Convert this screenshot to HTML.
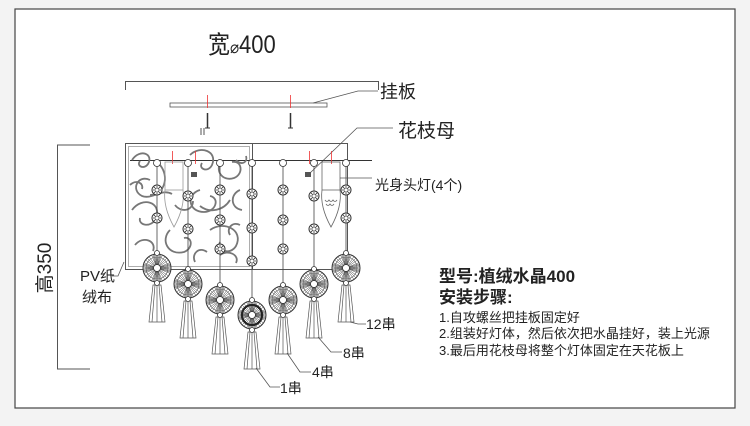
<!DOCTYPE html>
<html><head><meta charset="utf-8"><style>
html,body{margin:0;padding:0;background:#f3f3f3;}
svg{display:block;}
text{font-family:"Liberation Sans","Noto Sans CJK SC",sans-serif;fill:#222;}
</style></head><body>
<svg width="750" height="426" viewBox="0 0 750 426" xmlns="http://www.w3.org/2000/svg">
<defs>
<g id="bead"><circle r="5" fill="#fff" stroke="#333" stroke-width="1"/><path d="M-4,0H4M0,-4V4M-3,-3L3,3M-3,3L3,-3" stroke="#333" stroke-width="0.8"/><circle r="1.3" fill="#fff"/></g>
<g id="med">
<circle r="14" fill="#fff" stroke="#333" stroke-width="1"/>
<circle r="11" fill="none" stroke="#555" stroke-width="0.6"/>
<path d="M0,-14V14M-14,0H14M-10,-10L10,10M-10,10L10,-10M-5.4,-13L5.4,13M5.4,-13L-5.4,13M-13,-5.4L13,5.4M-13,5.4L13,-5.4M-2.7,-13.7L2.7,13.7M2.7,-13.7L-2.7,13.7M-13.7,-2.7L13.7,2.7M-13.7,2.7L13.7,-2.7M-8,-11.5L8,11.5M8,-11.5L-8,11.5M-11.5,-8L11.5,8M-11.5,8L11.5,-8M-1.3,-14L1.3,14M1.3,-14L-1.3,14M-14,-1.3L14,1.3M-14,1.3L14,-1.3M-4,-13.4L4,13.4M4,-13.4L-4,13.4M-13.4,-4L13.4,4M-13.4,4L13.4,-4" stroke="#444" stroke-width="0.5"/>
<circle r="3.5" fill="#fff" stroke="#333" stroke-width="0.8"/>
<circle cy="-15" r="2.5" fill="#fff" stroke="#333" stroke-width="0.8"/>
<circle cy="15" r="2.5" fill="#fff" stroke="#333" stroke-width="0.8"/>
</g>
</defs>
<rect x="15" y="9" width="720" height="399" fill="#fff" stroke="#444" stroke-width="1.2"/>

<text x="208" y="53" font-size="22" transform="translate(208,53) scale(1,1.12) translate(-208,-53)">宽<tspan font-size="15">⌀</tspan>400</text>
<path d="M125.5,90V81.5H378.5V90" fill="none" stroke="#555" stroke-width="1"/>

<rect x="170" y="103" width="157" height="4" fill="#fff" stroke="#555" stroke-width="0.8"/>
<path d="M313,103L358,91H378" fill="none" stroke="#555" stroke-width="0.8"/>
<text x="380" y="98" font-size="18">挂板</text>
<path d="M207.5,95V108M290.5,95V108" stroke="#e33" stroke-width="0.8"/>
<path d="M207.5,113V128M290.5,113V128" stroke="#333" stroke-width="1.5"/>
<path d="M205,128H210M288,128H293" stroke="#333" stroke-width="1"/>
<path d="M201,128V135M204,128V135" stroke="#555" stroke-width="1"/>
<text x="398" y="137" font-size="19">花枝母</text>
<path d="M309,174L357,128H393" fill="none" stroke="#555" stroke-width="0.8"/>

<path d="M90,145H57.5V369H90" fill="none" stroke="#555" stroke-width="1"/>
<text transform="translate(51,268) rotate(-90)" font-size="19" text-anchor="middle">高350</text>

<rect x="125.5" y="143.5" width="222" height="126" fill="none" stroke="#555" stroke-width="1"/>
<rect x="125.5" y="143.5" width="127" height="126" fill="none" stroke="#555" stroke-width="1"/>
<rect x="128.5" y="146.5" width="121" height="120" fill="none" stroke="#777" stroke-width="0.6"/>
<path d="M130,160.5H372" stroke="#333" stroke-width="1"/>
<g fill="none" stroke="#777" stroke-width="1.8">
<path d="M132,160c8,-12 22,-6 16,4c-4,6 -12,2 -8,-3"/>
<path d="M150,180c-12,-6 -20,10 -8,16c10,4 20,-8 30,-2"/>
<path d="M190,155c10,-10 28,-4 22,10c-4,8 -14,4 -10,-2"/>
<path d="M222,160c-8,10 0,22 12,18c10,-4 8,-18 -2,-16"/>
<path d="M200,190c-14,4 -12,22 4,22c12,0 16,-14 6,-16"/>
<path d="M132,210c10,-14 30,-8 24,8c-4,10 -18,8 -16,0"/>
<path d="M170,230c-10,10 -2,26 14,22c10,-4 8,-16 0,-14"/>
<path d="M210,230c14,-10 34,0 26,16c-6,10 -20,4 -16,-4"/>
<path d="M240,190c-10,4 -10,18 2,20"/>
<path d="M135,245c8,-10 22,-4 18,6"/>
<path d="M220,255c8,-6 20,0 16,8"/>
<path d="M160,165c10,12 4,30 -10,30"/>
<path d="M230,200c-6,10 -20,14 -30,6"/>
<path d="M130,185c6,-6 14,-2 12,4"/>
<path d="M175,205c6,8 18,6 18,-4"/>
<path d="M236,160c6,6 12,2 10,-4"/>
<path d="M195,262c-4,-8 4,-16 12,-10"/>
<path d="M240,225c-8,-4 -14,4 -10,10"/>
<path d="M150,258c6,-4 12,0 10,6"/>
</g>

<g stroke="#444" stroke-width="0.8">
<path d="M157,166V253M188,166V269M220,166V285M252,166V300M283,166V285M314,166V269M346,166V253"/>
</g>
<g fill="#fff" stroke="#333" stroke-width="0.8">
<circle cx="157" cy="163" r="3.5"/><circle cx="188" cy="163" r="3.5"/><circle cx="220" cy="163" r="3.5"/><circle cx="252" cy="163" r="3.5"/><circle cx="283" cy="163" r="3.5"/><circle cx="314" cy="163" r="3.5"/><circle cx="346" cy="163" r="3.5"/>
</g>
<path d="M172.5,151V164M195.5,151V164M309.5,151V164M331.5,151V164" stroke="#e33" stroke-width="0.8"/>
<rect x="191" y="172" width="6" height="5" fill="#555"/>
<rect x="305" y="172" width="6" height="5" fill="#555"/>
<g fill="none" stroke="#666" stroke-width="0.8">
<rect x="322" y="162" width="18" height="28"/>
<path d="M322,190C320,205 326,218 331,227C336,218 342,205 340,190"/>
<path d="M325,200q2,3 4,0q2,3 4,0q2,3 4,0M326,204q2,3 4,0q2,3 4,0"/>
<rect x="165" y="162" width="18" height="28" stroke="#999"/>
<path d="M165,190C163,205 169,218 174,227C179,218 185,205 183,190" stroke="#999"/>
</g>
<path d="M340,178H372" stroke="#555" stroke-width="0.8"/>
<text x="375" y="190" font-size="14">光身头灯(4个)</text>

<use href="#bead" x="157" y="190"/><use href="#bead" x="157" y="218"/>
<use href="#bead" x="188" y="196"/><use href="#bead" x="188" y="229"/>
<use href="#bead" x="220" y="190"/><use href="#bead" x="220" y="220"/><use href="#bead" x="220" y="249"/>
<use href="#bead" x="252" y="194"/><use href="#bead" x="252" y="228"/><use href="#bead" x="252" y="261"/>
<use href="#bead" x="283" y="190"/><use href="#bead" x="283" y="220"/><use href="#bead" x="283" y="249"/>
<use href="#bead" x="314" y="196"/><use href="#bead" x="314" y="229"/>
<use href="#bead" x="346" y="190"/><use href="#bead" x="346" y="218"/>

<g fill="#fff" stroke="#555" stroke-width="0.7">
<path d="M153,285L149,322H165L161,285Z M155,285L152,322M157,285V322M159,285L162,322"/>
<path d="M184,301L180,338H196L192,301Z M186,301L183,338M188,301V338M190,301L193,338"/>
<path d="M216,317L212,354H228L224,317Z M218,317L215,354M220,317V354M222,317L225,354"/>
<path d="M248,332L244,369H260L256,332Z M250,332L247,369M252,332V369M254,332L257,369"/>
<path d="M279,317L275,354H291L287,317Z M281,317L278,354M283,317V354M285,317L288,354"/>
<path d="M310,301L306,338H322L318,301Z M312,301L309,338M314,301V338M316,301L319,338"/>
<path d="M342,285L338,322H354L350,285Z M344,285L341,322M346,285V322M348,285L351,322"/>
</g>
<use href="#med" x="157" y="268"/><use href="#med" x="188" y="284"/><use href="#med" x="220" y="300"/>
<use href="#med" x="252" y="315"/><use href="#med" x="283" y="300"/><use href="#med" x="314" y="284"/><use href="#med" x="346" y="268"/>
<circle cx="252" cy="315" r="10" fill="none" stroke="#222" stroke-width="2"/>

<g fill="none" stroke="#555" stroke-width="0.8">
<path d="M256,368L270,387H280"/>
<path d="M287,353L300,372H311"/>
<path d="M318,337L331,352H342"/>
<path d="M350,322L358,324H366"/>
<path d="M124,262L118,276H112"/>
</g>
<text x="280" y="393" font-size="14">1串</text>
<text x="312" y="377" font-size="14">4串</text>
<text x="343" y="358" font-size="14">8串</text>
<text x="366" y="329" font-size="14">12串</text>
<text x="80" y="281" font-size="15">PV纸</text>
<text x="82" y="302" font-size="15">绒布</text>

<text x="439" y="282" font-size="17" font-weight="bold">型号:植绒水晶400</text>
<text x="439" y="303" font-size="17" font-weight="bold">安装步骤:</text>
<text x="439" y="322" font-size="13">1.自攻螺丝把挂板固定好</text>
<text x="439" y="338" font-size="13">2.组装好灯体，然后依次把水晶挂好，装上光源</text>
<text x="439" y="355" font-size="13">3.最后用花枝母将整个灯体固定在天花板上</text>
</svg>
</body></html>
